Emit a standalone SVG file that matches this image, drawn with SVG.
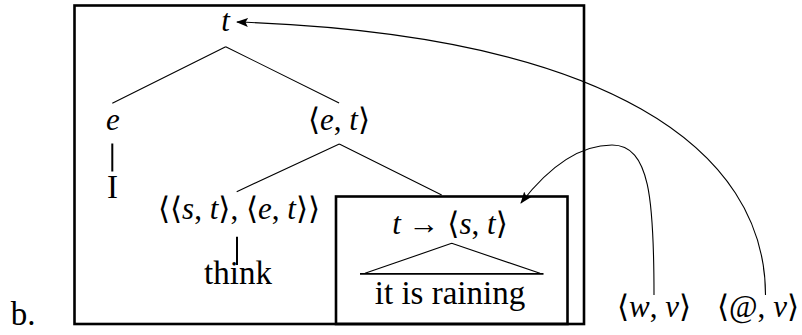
<svg xmlns="http://www.w3.org/2000/svg" width="802" height="335" viewBox="0 0 802 335">
<defs>
<marker id="arr" markerWidth="12" markerHeight="10" refX="11" refY="5" orient="auto" markerUnits="userSpaceOnUse">
<path d="M0,0.5 L12,5 L0,9.5 L2.5,5 Z" fill="#000"/>
</marker>
<style>
.box{fill:none;stroke:#000;stroke-width:2.6}
.edge{fill:none;stroke:#000;stroke-width:1.1}
.stem{fill:none;stroke:#000;stroke-width:2}
.conn{fill:none;stroke:#000;stroke-width:1.1}
text{font-family:"Liberation Serif","DejaVu Serif",serif;fill:#000;text-anchor:middle}
.m{font-size:31px}
.r{font-size:33px}
.i{font-style:italic}
</style>
</defs>
<rect width="802" height="335" fill="#fff"/>
<text class="r" x="23" y="325">b.</text>
<g id="outer-box"><rect class="box" x="74.5" y="5.5" width="509.5" height="318.5"/></g>
<g id="inner-box"><rect class="box" x="336" y="196.5" width="231.5" height="127.5"/></g>
<g id="tree-edges">
<path class="edge" d="M225.7,46.7 L112.3,103.3 M225.7,46.7 L339.1,103"/>
<path class="edge" d="M339.3,144 L236.7,191.7 M339.3,144 L441.7,195"/>
<path class="stem" d="M112.3,143.5 L112.3,171.5 M237,236.7 L237,265"/>
<path class="edge" d="M451.7,243.3 L365,273.3 M451.7,243.3 L540,273.3"/>
<path class="stem" d="M360,273.8 L543.5,273.8" style="stroke-width:1.8"/>
</g>
<g id="n-t"><text class="m i" x="225.5" y="31">t</text></g>
<g id="n-e"><text class="m i" x="113" y="130">e</text></g>
<g id="n-et"><text class="m" x="339" y="130">⟨<tspan class="i">e</tspan>, <tspan class="i">t</tspan>⟩</text></g>
<g id="n-I"><text class="r" x="112.5" y="198">I</text></g>
<g id="n-think-type"><text class="m" x="239" y="219">⟨⟨<tspan class="i">s</tspan>, <tspan class="i">t</tspan>⟩, ⟨<tspan class="i">e</tspan>, <tspan class="i">t</tspan>⟩⟩</text></g>
<g id="n-think"><text class="r" x="238" y="284">think</text></g>
<g id="n-tst"><text class="m" x="450" y="233.5"><tspan class="i">t</tspan> → ⟨<tspan class="i">s</tspan>, <tspan class="i">t</tspan>⟩</text></g>
<g id="n-raining"><text class="r" x="450" y="304">it is raining</text></g>
<g id="n-w"><text class="m" x="654" y="317">⟨<tspan class="i">w</tspan>, <tspan class="i">ν</tspan>⟩</text></g>
<g id="n-at"><text class="m" x="799" y="317" style="text-anchor:end">⟨@, <tspan class="i">ν</tspan>⟩</text></g>
<g id="connectors">
<path class="conn" d="M654,295 C654,200 650,145 612,145 C575,145 545,172 521,203" marker-end="url(#arr)"/>
<path class="conn" d="M765.5,295 C765.5,150 610,35 237,22" marker-end="url(#arr)"/>
</g>
</svg>
